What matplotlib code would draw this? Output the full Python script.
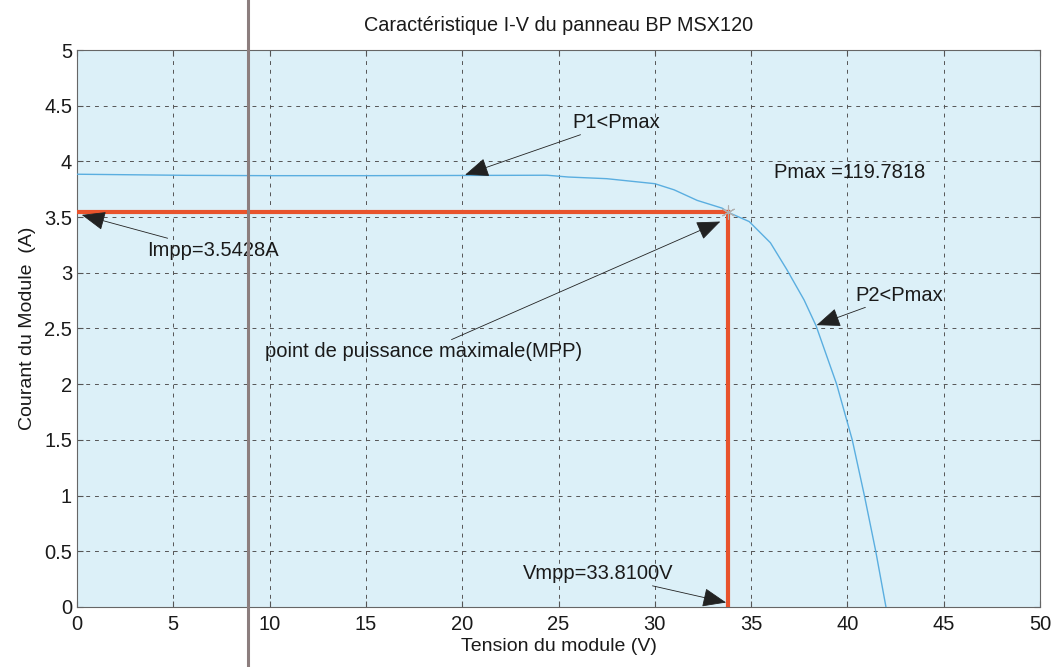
import matplotlib
matplotlib.use("Agg")
import matplotlib.pyplot as plt
from matplotlib.lines import Line2D

plt.rcParams['font.family'] = ['Liberation Sans', 'DejaVu Sans']

# I-V curve
tension = [0, 5.7, 10, 15, 20, 24.4, 25.5, 27.5, 30.0, 31.0, 32.2, 33.5, 33.81,
           34.9, 36.0, 36.85, 37.75, 38.37, 39.44, 40.25, 40.88, 41.47, 42.0]
courant = [3.885, 3.875, 3.872, 3.872, 3.874, 3.876, 3.86, 3.845, 3.80, 3.745, 3.65,
           3.58, 3.5428, 3.46, 3.27, 3.03, 2.756, 2.525, 2.0, 1.5, 1.0, 0.5, 0.0]

vmpp = 33.81
impp = 3.5428
pmax = 119.7818

xticks = [0, 5, 10, 15, 20, 25, 30, 35, 40, 45, 50]
yticks = [0, 0.5, 1, 1.5, 2, 2.5, 3, 3.5, 4, 4.5, 5]

fig = plt.figure(figsize=(10.53, 6.67), dpi=100)
ax = fig.add_axes([0.0731, 0.09, 0.9146, 0.835])
ax.set_facecolor('#dcf0f8')

ax.plot(tension, courant, color='#5aaee0', lw=1.0, zorder=3)
ax.plot([0, vmpp], [impp, impp], color='#e8532c', lw=3, zorder=4)
ax.plot([vmpp, vmpp], [0, impp], color='#e8532c', lw=3, zorder=4)
ax.plot([vmpp], [impp], marker=(6, 2, 0), ms=10, color='#b0b0b0', mew=0.8, zorder=5)

ax.set_xlim(0, 50)
ax.set_ylim(0, 5)
ax.set_xticks(xticks)
ax.set_yticks(yticks)
ax.set_xticklabels([str(v) for v in xticks])
ax.set_yticklabels([('%g' % v) for v in yticks])
ax.tick_params(direction='in', top=True, right=True, labelsize=14.5, length=4,
               color='#555', labelcolor='#1a1a1a')
ax.tick_params(axis='x', pad=6)
ax.grid(True, linestyle=(0, (4, 5)), color='#555555', lw=0.7)
for s in ax.spines.values():
    s.set_color('#666666')
    s.set_linewidth(0.8)

ax.set_xlabel('Tension du module (V)', fontsize=14, labelpad=3, color='#1a1a1a')
ax.set_ylabel('Courant du Module  (A)', fontsize=14, labelpad=6, color='#1a1a1a')
ax.set_title('Caractéristique I-V du panneau BP MSX120', fontsize=14.3, pad=14,
             color='#1a1a1a')

arr = dict(arrowstyle='-|>,head_length=1.0,head_width=0.4', color='#222222',
           lw=0.6, mutation_scale=15, shrinkA=0, shrinkB=0)
fs = 14.5

ax.annotate('P1<Pmax', xy=(20.15, 3.88), xytext=(25.7, 4.35),
            fontsize=fs, va='center', ha='left', arrowprops=arr, zorder=6, color='#1a1a1a')
ax.text(36.2, 3.9, 'Pmax =%.4f' % pmax, fontsize=fs, va='center', ha='left', zorder=6,
        color='#1a1a1a')
ax.annotate('Impp=%.4fA' % impp, xy=(0.25, 3.52), xytext=(3.63, 3.2),
            fontsize=fs, va='center', ha='left', arrowprops=arr, zorder=6, color='#1a1a1a')
ax.annotate('point de puissance maximale(MPP)', xy=(33.4, 3.46), xytext=(9.76, 2.29),
            fontsize=fs, va='center', ha='left', arrowprops=arr, zorder=6, color='#1a1a1a')
ax.annotate('P2<Pmax', xy=(38.4, 2.53), xytext=(40.4, 2.8),
            fontsize=fs, va='center', ha='left', arrowprops=arr, zorder=6, color='#1a1a1a')
ax.annotate('Vmpp=%.4fV' % vmpp, xy=(33.7, 0.04), xytext=(23.16, 0.3),
            fontsize=fs, va='center', ha='left', arrowprops=arr, zorder=6, color='#1a1a1a')

# scan artifact: grey vertical line across the page
fig.add_artist(Line2D([248 / 1053, 248 / 1053], [0, 1], color='#8c7e7e', lw=2.2))

fig.savefig('out.png', dpi=100)
